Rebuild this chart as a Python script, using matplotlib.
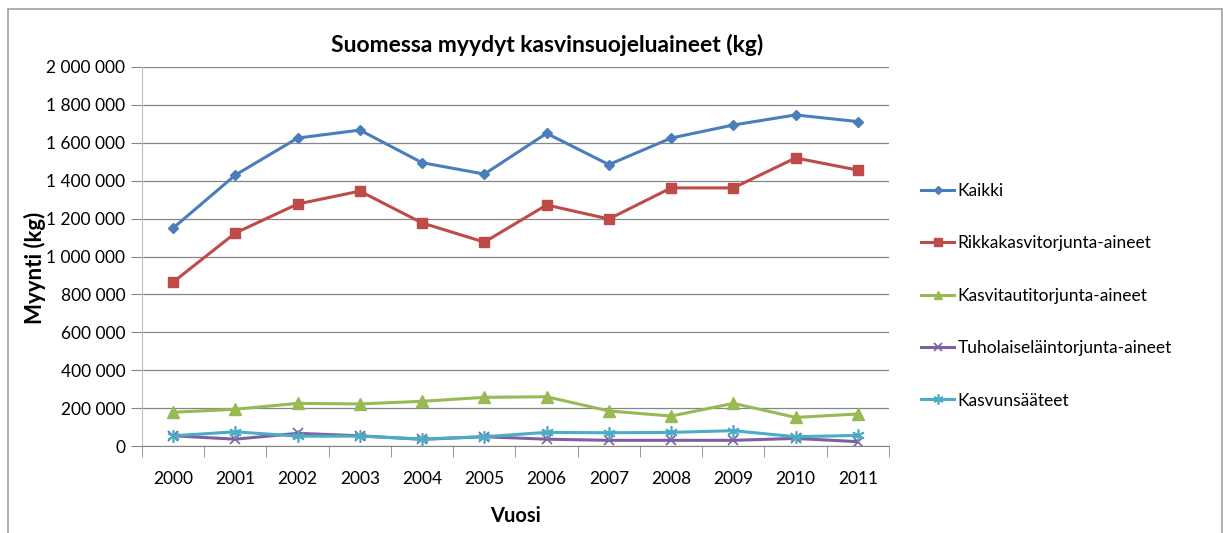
import matplotlib.pyplot as plt
from matplotlib.patches import Rectangle

years = ['2000', '2001', '2002', '2003', '2004', '2005',
         '2006', '2007', '2008', '2009', '2010', '2011']
kaikki = [1150000, 1430000, 1625000, 1667000, 1495000, 1435000,
          1650000, 1485000, 1625000, 1694000, 1747000, 1712000]
rikka = [865000, 1124000, 1277000, 1345000, 1177000, 1076000,
         1272000, 1198000, 1362000, 1362000, 1520000, 1456000]
kasvitauti = [178000, 194000, 225000, 222000, 236000, 257000,
              260000, 185000, 158000, 225000, 151000, 169000]
tuholais = [54000, 36000, 67000, 54000, 35000, 49000,
            36000, 30000, 30000, 30000, 40000, 23000]
kasvunsaateet = [54000, 75000, 52000, 52000, 37000, 49000,
                 72000, 70000, 72000, 81000, 49000, 56000]

yticks = list(range(0, 2000001, 200000))
ytick_labels = ['{:,}'.format(v).replace(',', ' ') for v in yticks]

plt.rcParams['font.family'] = ['Lato', 'DejaVu Sans']

fig = plt.figure(figsize=(12.23, 5.33), dpi=100)
ax = fig.add_axes([0.1161, 0.1632, 0.6108, 0.7111])

x = range(len(years))
ax.plot(x, kaikki, color='#4A7EBB', lw=2.2, marker='D', ms=5.5, label='Kaikki')
ax.plot(x, rikka, color='#BE4B48', lw=2.2, marker='s', ms=7, label='Rikkakasvitorjunta-aineet')
ax.plot(x, kasvitauti, color='#98B954', lw=2.2, marker='^', ms=8, label='Kasvitautitorjunta-aineet')
ax.plot(x, tuholais, color='#7D60A0', lw=2.2, marker='x', ms=7, mew=1.2, label='Tuholaiseläintorjunta-aineet')
ax.plot(x, kasvunsaateet, color='#4AACC5', lw=2.2, marker=(6, 2, 0), ms=9, mew=1.2, label='Kasvunsääteet')

ax.set_xlim(-0.5, len(years) - 0.5)
ax.set_ylim(0, 2000000)
ax.set_yticks(yticks)
ax.set_yticklabels(ytick_labels, fontsize=12.5)
ax.set_xticks(list(x))
ax.set_xticklabels(years, fontsize=12.5)
ax.set_xticks([i + 0.5 for i in range(-1, len(years))], minor=True)
ax.tick_params(axis='x', which='major', length=0, pad=18)
ax.tick_params(axis='x', which='minor', length=8, color='#868686')
ax.tick_params(axis='y', length=8, color='#868686', pad=4)
ax.grid(axis='y', color='#868686', lw=0.9)
ax.set_axisbelow(True)
for s in ['top', 'right']:
    ax.spines[s].set_visible(False)
ax.spines['left'].set_color('#BEBEBE')
ax.spines['bottom'].set_color('#868686')

fig.text(547 / 1223, 1 - 45 / 533, 'Suomessa myydyt kasvinsuojeluaineet (kg)',
         fontsize=16.5, fontweight='bold', ha='center', va='center')
ax.set_xlabel('Vuosi', fontsize=14.5, fontweight='bold', labelpad=14)
ax.set_ylabel('Myynti (kg)', fontsize=16, fontweight='bold')
ax.yaxis.set_label_coords(-0.128, 0.47)

ax.legend(loc='upper left', bbox_to_anchor=(1.022, 0.736), frameon=False,
          fontsize=12.5, labelspacing=2.1, handlelength=1.9, handletextpad=0.2,
          markerscale=0.8)

fig.patches.append(Rectangle((8 / 1223, -0.05), 1214 / 1223, 1 - 9 / 533 + 0.05,
                             transform=fig.transFigure, fill=False,
                             edgecolor='#A0A0A0', lw=1.2))

fig.savefig('out.png', dpi=100)
